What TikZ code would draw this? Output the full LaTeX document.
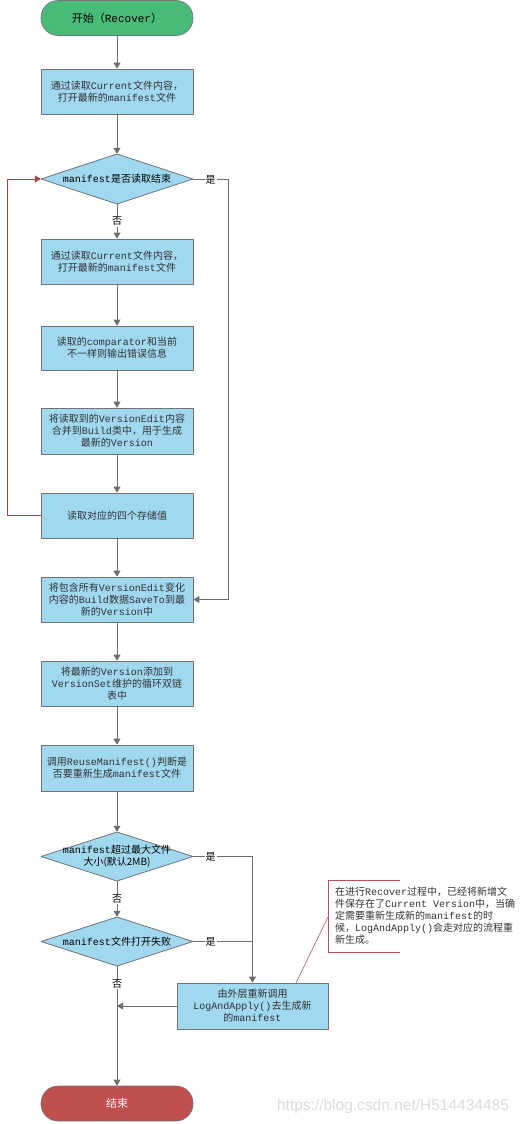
\documentclass[tikz,border=0pt]{standalone}
\usepackage{fontspec}
\setmainfont{Noto Sans CJK SC}
\setmonofont{Liberation Mono}
\newfontfamily\wmfont{Liberation Sans}
\usetikzlibrary{arrows.meta,shadows}
\newcommand{\mono}[1]{{\ttfamily #1}}
\newcommand{\fs}{\fontsize{10}{12}\selectfont}
\definecolor{boxfill}{RGB}{160,216,239}
\definecolor{boxline}{RGB}{115,115,115}
\definecolor{linec}{RGB}{110,110,110}
\definecolor{txt}{RGB}{50,50,50}
\definecolor{startc}{RGB}{72,187,120}
\definecolor{endc}{RGB}{192,80,77}
\definecolor{loopc}{RGB}{176,65,62}
\definecolor{notec}{RGB}{184,80,96}
\tikzset{
  box/.style={draw=boxline, line width=0.8pt, fill=boxfill, minimum width=152pt, minimum height=45pt,
    inner sep=0pt, align=center, font=\fs, text=txt,
    drop shadow={shadow xshift=1.2pt, shadow yshift=-1.2pt, fill=black!20, opacity=0.6}},
  dia/.style={minimum width=152pt, minimum height=50pt, inner sep=0pt, align=center, font=\fs, text=black,
    path picture={\filldraw[fill=boxfill, draw=boxline, line width=0.8pt]
      (path picture bounding box.west) -- (path picture bounding box.north) --
      (path picture bounding box.east) -- (path picture bounding box.south) -- cycle;}},
  term/.style={draw=boxline, line width=0.6pt, rounded corners=17pt, minimum width=152pt, minimum height=35pt,
    inner sep=0pt, font=\fontsize{11}{13}\selectfont},
  arr/.style={draw=linec, line width=0.8pt, -{Triangle[width=7pt,length=6pt]}},
  ln/.style={draw=linec, line width=0.8pt},
  lab/.style={fill=white, inner sep=1pt, font=\fs, text=black},
}
\begin{document}
\begin{tikzpicture}[x=1pt,y=-1pt]
\useasboundingbox (0,0) rectangle (521,1124);
\node[term, fill=startc, text=black] (start) at (117,18) {开始（\mono{Recover}）};
\node[box] (b1) at (117,91.5) {通过读取\mono{Current}文件内容，\\ 打开最新的\mono{manifest}文件};
\node[dia] (d1) at (117,179) {\mono{manifest}是否读取结束};
\node[box] (b2) at (117,261.5) {通过读取\mono{Current}文件内容，\\ 打开最新的\mono{manifest}文件};
\node[box, minimum height=44pt] (b3) at (117,348) {读取的\mono{comparator}和当前\\不一样则输出错误信息};
\node[box, minimum height=46pt] (b4) at (117,431) {将读取到的\mono{VersionEdit}内容\\合并到\mono{Build}类中，用于生成\\最新的\mono{Version}};
\node[box] (b5) at (117,515.5) {读取对应的四个存储值};
\node[box] (b6) at (117,599.5) {将包含所有\mono{VersionEdit}变化\\内容的\mono{Build}数据\mono{SaveTo}到最\\新的\mono{Version}中};
\node[box] (b7) at (117,683.5) {将最新的\mono{Version}添加到\\\mono{VersionSet}维护的循环双链\\表中};
\node[box, minimum height=46pt] (b8) at (117,768) {调用\mono{ReuseManifest()}判断是\\否要重新生成\mono{manifest}文件};
\node[dia, minimum height=49pt] (d2) at (117,856.5) {\mono{manifest}超过最大文件\\大小(默认2MB)};
\node[dia, minimum height=49pt] (d3) at (117,941.5) {\mono{manifest}文件打开失败};
\node[box, minimum width=151pt, minimum height=46pt] (b9) at (252.5,1006) {由外层重新调用\\\mono{LogAndApply()}去生成新\\的\mono{manifest}};
\node[term, fill=endc, text=white] (end) at (117,1103.5) {结束};

% note
\node[anchor=west, align=left, inner sep=0pt, font=\fs, text=txt] (note) at (335,916)
  {在进行\mono{Recover}过程中，已经将新增文\\件保存在了\mono{Current Version}中，当确\\定需要重新生成新的\mono{manifest}的时\\候，\mono{LogAndApply()}会走对应的流程重\\新生成。};
\coordinate (nt) at (400,880);
\coordinate (nb) at (400,952);
\coordinate (nl) at (328,917);
\coordinate (ann) at (296,983);
\draw[notec, line width=0.8pt] (nt) -- (nt -| nl) -- (nb -| nl) -- (nb);
\draw[notec, line width=0.6pt] (ann) -- (nl);

% connectors
\draw[arr] (start) -- (b1);
\draw[arr] (b1) -- (d1);
\draw[arr] (d1) -- node[lab, pos=0.5] {否} (b2);
\coordinate (rx) at (228,0);
\draw[arr] (d1.east) -- (d1.east -| rx) |- (b6.east);
\node[lab] at (210.5,180) {是};
\draw[arr] (b2) -- (b3);
\draw[arr] (b3) -- (b4);
\draw[arr] (b4) -- (b5);
\draw[arr] (b5) -- (b6);
\draw[arr] (b6) -- (b7);
\draw[arr] (b7) -- (b8);
\draw[arr] (b8) -- (d2);
\coordinate (lx) at (7,0);
\draw[draw=loopc, line width=0.8pt, -{Triangle[width=7pt,length=6pt]}] (b5.west) -- (b5.west -| lx) |- (d1.west);
\draw[arr] (d2.east) -| (b9.north);
\node[lab] at (210.5,857) {是};
\draw[arr] (d2) -- node[lab, pos=0.5] {否} (d3);
\draw[ln] (d3.east) -- (d3.east -| b9.north);
\node[lab] at (210.5,942) {是};
\draw[arr] (d3) -- node[lab, pos=0.15] {否} (end);
\draw[arr] (b9.west) -- (b9.west -| d3.south);

% watermark
\node[text=black!14, font=\wmfont\fontsize{15.5}{17}\selectfont, inner sep=0pt] (wm) at (393,1106) {https://blog.csdn.net/H514434485};
\end{tikzpicture}
\end{document}
